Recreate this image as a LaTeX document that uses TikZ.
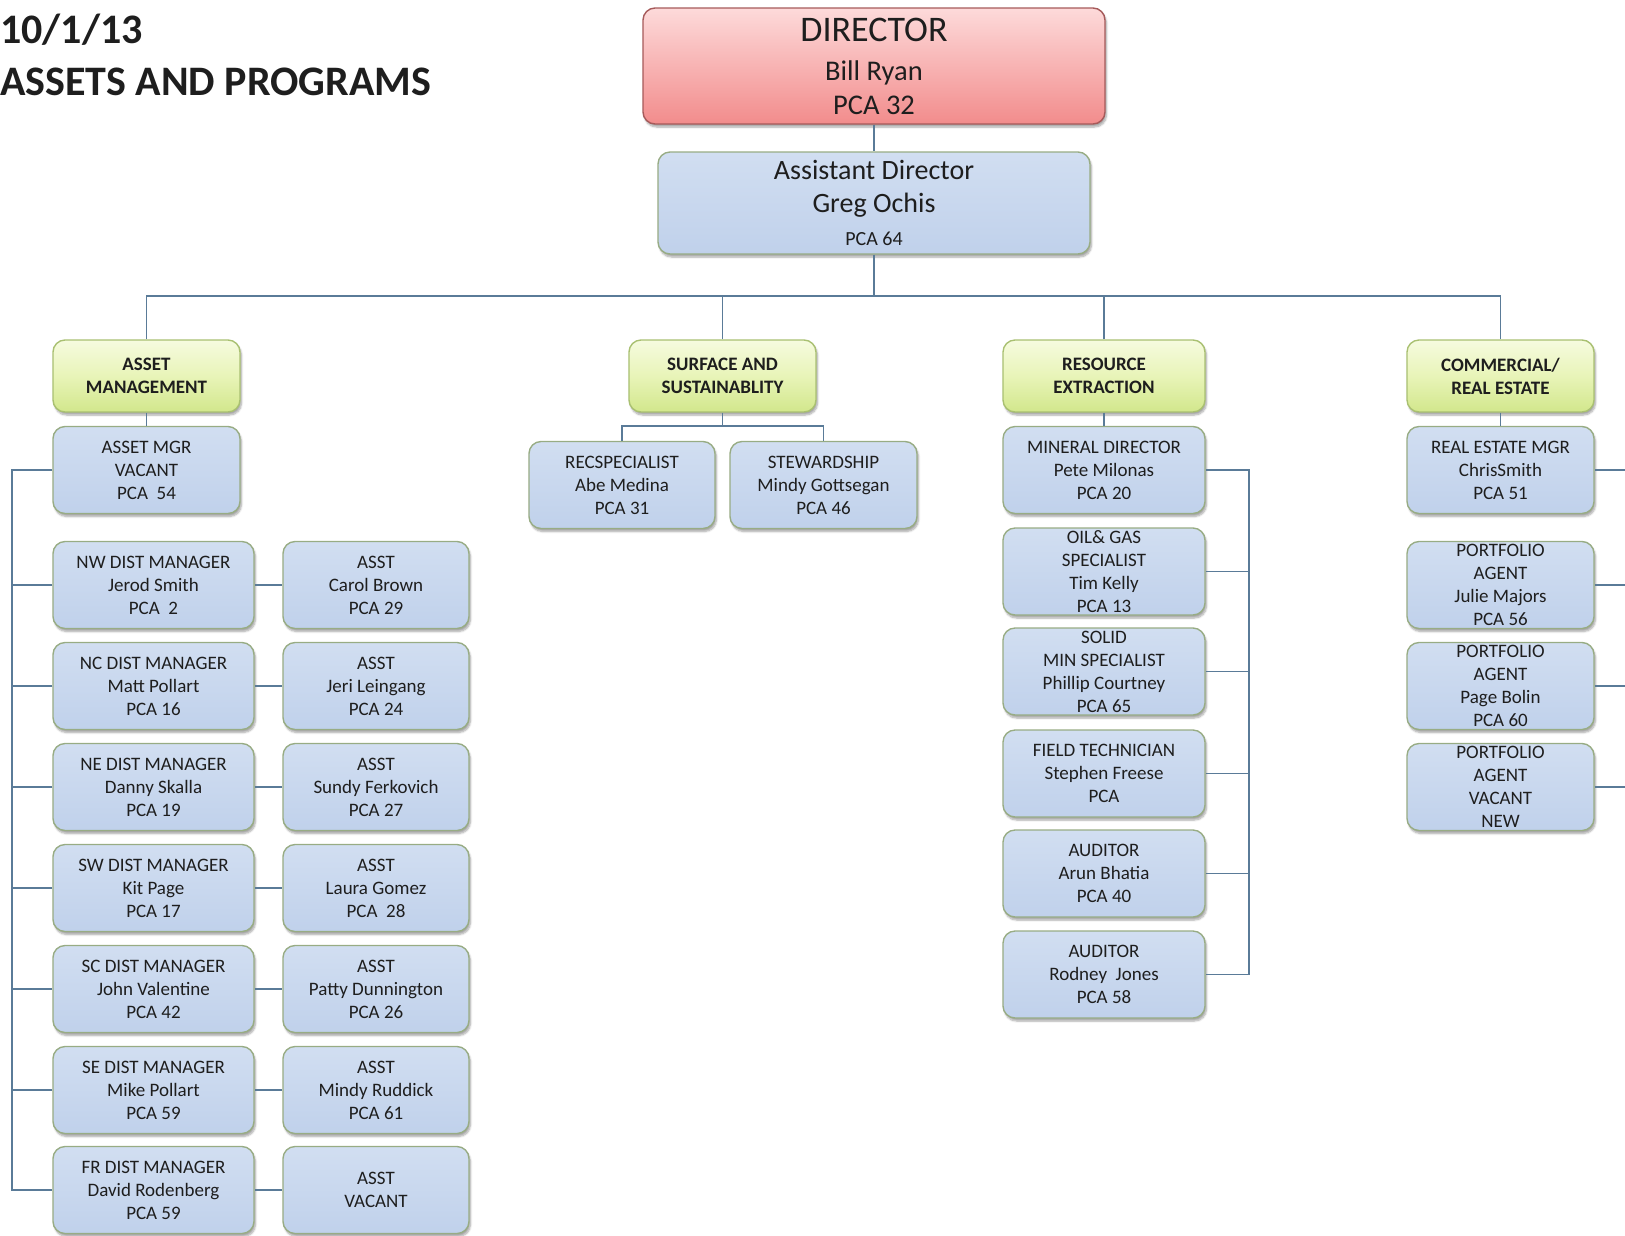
\documentclass[tikz,border=0pt]{standalone}
\usepackage{fontspec}
\setmainfont{Carlito}
\usetikzlibrary{shadows.blur}

\definecolor{ink}{HTML}{1E1E1E}
\definecolor{wirecol}{HTML}{5A7B98}
\definecolor{bluetop}{HTML}{D1DEF1}
\definecolor{bluebot}{HTML}{C0D1EB}
\definecolor{boxedge}{HTML}{98AC84}
\definecolor{greentop}{HTML}{F6FBDF}
\definecolor{greenmid}{HTML}{E8F4B8}
\definecolor{greenbot}{HTML}{D2E78C}
\definecolor{greenedge}{HTML}{A9C071}
\definecolor{redtop}{HTML}{FDDADA}
\definecolor{redbot}{HTML}{F28C8C}
\definecolor{rededge}{HTML}{A65A5A}

\begin{document}
\begin{tikzpicture}[x=1pt,y=-1pt,
  softshadow/.style={blur shadow={shadow xshift=1.5pt, shadow yshift=-3pt,
      shadow blur steps=6, shadow blur extra rounding=2pt, shadow opacity=35}},
  card/.style={rounded corners=12pt, line width=1.4pt, align=center,
      inner sep=0pt, text=ink, softshadow},
  person/.style={card, draw=boxedge, top color=bluetop, bottom color=bluebot,
      minimum height=87pt, font=\fontsize{19}{23}\selectfont},
  unit/.style={card, draw=greenedge, top color=greentop, bottom color=greenbot,
      middle color=greenmid, minimum height=72pt,
      font=\fontsize{19}{23}\selectfont\bfseries},
  chief/.style={card, draw=rededge, top color=redtop, bottom color=redbot},
  wire/.style={draw=wirecol, line width=1.4pt},
  title/.style={anchor=base west, inner sep=0pt, text=ink,
      font=\fontsize{42}{48}\selectfont\bfseries}]

\useasboundingbox (0,0) rectangle (1625,1235);

% heading
\node[title] (date) at (0,43) {10/1/13};
\node[title] (heading) at (0,95) {ASSETS AND PROGRAMS};

% top of the chart
\node[chief, minimum width=462pt, minimum height=116pt,
      font=\fontsize{28.5}{34}\selectfont] (dir) at (874,66)
  {{\fontsize{36}{36}\selectfont DIRECTOR}\\[5pt]Bill Ryan\\PCA 32};
\node[person, minimum width=432pt, minimum height=102pt,
      font=\fontsize{28}{33}\selectfont] (ad) at (874,203)
  {Assistant Director\\Greg Ochis\\{\fontsize{20}{30}\selectfont PCA 64}};

% program units
\node[unit, minimum width=187pt] (am)  at (146.5,376) {ASSET\\MANAGEMENT};
\node[unit, minimum width=187pt] (ss)  at (722.5,376) {SURFACE AND\\SUSTAINABLITY};
\node[unit, minimum width=202pt] (rex) at (1104,376) {RESOURCE\\EXTRACTION};
\node[unit, minimum width=187pt] (cre) at (1500.5,376) {COMMERCIAL/\\REAL ESTATE};

% asset management
\node[person, minimum width=187pt] (amgr) at (146.5,470) {ASSET MGR\\VACANT\\PCA\ \ 54};
\node[person, minimum width=201pt] (nwd) at (153.5,585)  {NW DIST MANAGER\\Jerod Smith\\PCA\ \ 2};
\node[person, minimum width=186pt] (nwa) at (376,585)    {ASST\\Carol Brown\\PCA 29};
\node[person, minimum width=201pt] (ncd) at (153.5,686)  {NC DIST MANAGER\\Matt Pollart\\PCA 16};
\node[person, minimum width=186pt] (nca) at (376,686)    {ASST\\Jeri Leingang\\PCA 24};
\node[person, minimum width=201pt] (ned) at (153.5,787)  {NE DIST MANAGER\\Danny Skalla\\PCA 19};
\node[person, minimum width=186pt] (nea) at (376,787)    {ASST\\Sundy Ferkovich\\PCA 27};
\node[person, minimum width=201pt] (swd) at (153.5,888)  {SW DIST MANAGER\\Kit Page\\PCA 17};
\node[person, minimum width=186pt] (swa) at (376,888)    {ASST\\Laura Gomez\\PCA\ \ 28};
\node[person, minimum width=201pt] (scd) at (153.5,989)  {SC DIST MANAGER\\John Valentine\\PCA 42};
\node[person, minimum width=186pt] (sca) at (376,989)    {ASST\\Patty Dunnington\\PCA 26};
\node[person, minimum width=201pt] (sed) at (153.5,1090) {SE DIST MANAGER\\Mike Pollart\\PCA 59};
\node[person, minimum width=186pt] (sea) at (376,1090)   {ASST\\Mindy Ruddick\\PCA 61};
\node[person, minimum width=201pt] (frd) at (153.5,1190) {FR DIST MANAGER\\David Rodenberg\\PCA 59};
\node[person, minimum width=186pt] (fra) at (376,1190)   {ASST\\VACANT};

% surface and sustainability
\node[person, minimum width=186pt] (rec)  at (622,485)   {RECSPECIALIST\\Abe Medina\\PCA 31};
\node[person, minimum width=187pt] (stew) at (823.5,485) {STEWARDSHIP\\Mindy Gottsegan\\PCA 46};

% resource extraction
\node[person, minimum width=202pt] (mind) at (1104,470)   {MINERAL DIRECTOR\\Pete Milonas\\PCA 20};
\node[person, minimum width=202pt] (oil)  at (1104,571.5) {OIL\& GAS\\SPECIALIST\\Tim Kelly\\PCA 13};
\node[person, minimum width=202pt] (sol)  at (1104,671.5) {SOLID\\MIN SPECIALIST\\Phillip Courtney\\PCA 65};
\node[person, minimum width=202pt] (fld)  at (1104,773.5) {FIELD TECHNICIAN\\Stephen Freese\\PCA};
\node[person, minimum width=202pt] (aud1) at (1104,873.5) {AUDITOR\\Arun Bhatia\\PCA 40};
\node[person, minimum width=202pt] (aud2) at (1104,974.5) {AUDITOR\\Rodney\ \ Jones\\PCA 58};

% commercial / real estate
\node[person, minimum width=187pt] (remgr) at (1500.5,470) {REAL ESTATE MGR\\ChrisSmith\\PCA 51};
\node[person, minimum width=187pt] (pa1)   at (1500.5,585) {PORTFOLIO\\AGENT\\Julie Majors\\PCA 56};
\node[person, minimum width=187pt] (pa2)   at (1500.5,686) {PORTFOLIO\\AGENT\\Page Bolin\\PCA 60};
\node[person, minimum width=187pt] (pa3)   at (1500.5,787) {PORTFOLIO\\AGENT\\VACANT\\NEW};

% bus lines
\coordinate (bus)   at (874,296);
\coordinate (ssbus) at (722.5,426);
\coordinate (lbus)  at (12,0);
\coordinate (rbus)  at (1249,0);
\coordinate (edge)  at (1625,0);

% connectors
\draw[wire] (dir.south) -- (ad.north);
\draw[wire] (ad.south) -- (bus);
\draw[wire] (am.north)  |- (bus);
\draw[wire] (ss.north)  |- (bus);
\draw[wire] (rex.north) |- (bus);
\draw[wire] (cre.north) |- (bus);

\draw[wire] (am.south)  -- (amgr.north);
\draw[wire] (rex.south) -- (mind.north);
\draw[wire] (cre.south) -- (remgr.north);
\draw[wire] (ss.south) -- (ssbus);
\draw[wire] (rec.north)  |- (ssbus);
\draw[wire] (stew.north) |- (ssbus);

\draw[wire] (amgr.west) -- (amgr.west -| lbus) -- (frd.west -| lbus) -- (frd.west);
\foreach \n in {nwd,ncd,ned,swd,scd,sed}
  \draw[wire] (\n.west) -- (\n.west -| lbus);
\foreach \d/\a in {nwd/nwa,ncd/nca,ned/nea,swd/swa,scd/sca,sed/sea,frd/fra}
  \draw[wire] (\d.east) -- (\a.west);

\draw[wire] (mind.east) -- (mind.east -| rbus) -- (aud2.east -| rbus) -- (aud2.east);
\foreach \n in {oil,sol,fld,aud1}
  \draw[wire] (\n.east) -- (\n.east -| rbus);

\foreach \n in {remgr,pa1,pa2,pa3}
  \draw[wire] (\n.east) -- (\n.east -| edge);
\end{tikzpicture}
\end{document}
